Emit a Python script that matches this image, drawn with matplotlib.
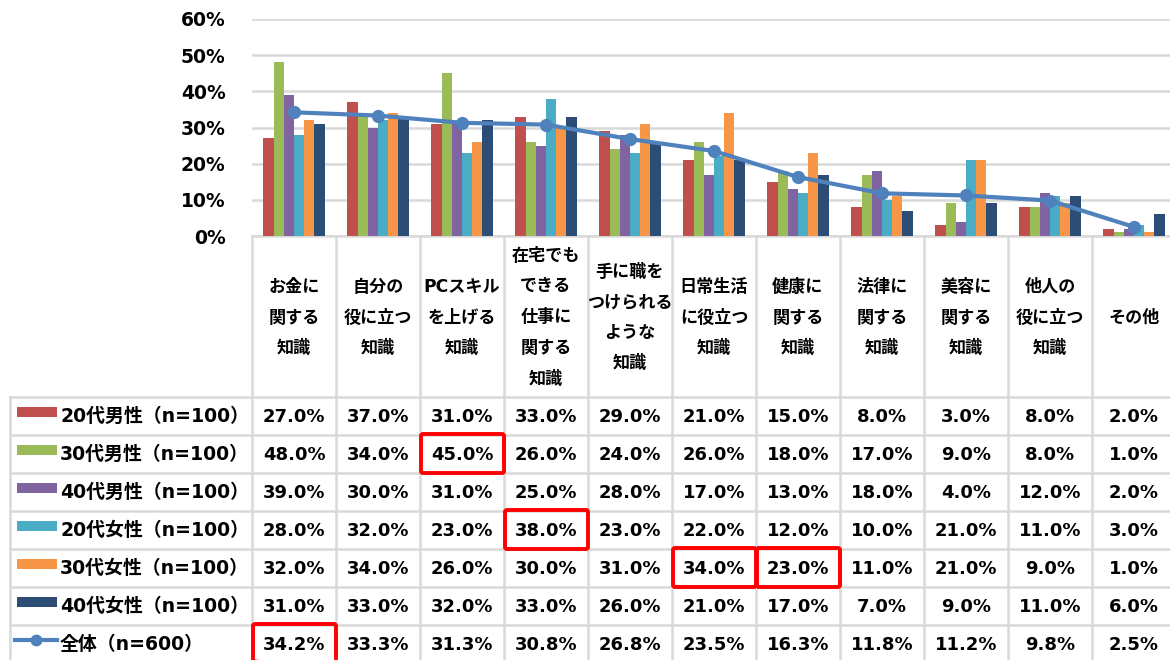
import matplotlib
matplotlib.use("Agg")
import matplotlib.pyplot as plt
from matplotlib.patches import Rectangle, FancyBboxPatch
import numpy as np

plt.rcParams['font.family'] = ['DejaVu Sans', 'Noto Sans CJK JP']
plt.rcParams['font.weight'] = 'bold'

# ---- data ----
categories = ["お金に\n関する\n知識", "自分の\n役に立つ\n知識", "PCスキル\nを上げる\n知識",
              "在宅でも\nできる\n仕事に\n関する\n知識", "手に職を\nつけられる\nような\n知識",
              "日常生活\nに役立つ\n知識", "健康に\n関する\n知識", "法律に\n関する\n知識",
              "美容に\n関する\n知識", "他人の\n役に立つ\n知識", "その他"]
series_names = ["20代男性（n=100）", "30代男性（n=100）", "40代男性（n=100）",
                "20代女性（n=100）", "30代女性（n=100）", "40代女性（n=100）"]
m20 = [27.0, 37.0, 31.0, 33.0, 29.0, 21.0, 15.0, 8.0, 3.0, 8.0, 2.0]
m30 = [48.0, 34.0, 45.0, 26.0, 24.0, 26.0, 18.0, 17.0, 9.0, 8.0, 1.0]
m40 = [39.0, 30.0, 31.0, 25.0, 28.0, 17.0, 13.0, 18.0, 4.0, 12.0, 2.0]
f20 = [28.0, 32.0, 23.0, 38.0, 23.0, 22.0, 12.0, 10.0, 21.0, 11.0, 3.0]
f30 = [32.0, 34.0, 26.0, 30.0, 31.0, 34.0, 23.0, 11.0, 21.0, 9.0, 1.0]
f40 = [31.0, 33.0, 32.0, 33.0, 26.0, 21.0, 17.0, 7.0, 9.0, 11.0, 6.0]
total_name = "全体（n=600）"
total = [34.2, 33.3, 31.3, 30.8, 26.8, 23.5, 16.3, 11.8, 11.2, 9.8, 2.5]
highlights = [(1, 2), (3, 3), (4, 5), (4, 6), (6, 0)]  # (row, column) of red boxes
y_ticks = [0, 10, 20, 30, 40, 50, 60]

series = [m20, m30, m40, f20, f30, f40]
colors = ["#C0504D", "#9BBB59", "#8064A2", "#4BACC6", "#F79646", "#2C4D75"]
line_color = "#4F81BD"
grid_color = "#D9D9D9"

W, H = 1170, 660
fig = plt.figure(figsize=(W / 100, H / 100), dpi=100)

# layout in pixels
x0, col_w = 252, 84
plot_top, plot_bot = 19, 236
row_top, row_h = 397, 38
n = len(categories)

# ---- bar + line chart ----
ax = fig.add_axes([x0 / W, (H - plot_bot) / H, (W - x0) / W, (plot_bot - plot_top) / H])
ax.patch.set_visible(False)
x = np.arange(n)
bw = 0.1215
for i, (vals, c) in enumerate(zip(series, colors)):
    ax.bar(x + (i - 2.5) * bw, vals, width=bw, color=c, zorder=2)
ax.plot(x, total, color=line_color, lw=3, marker='o', ms=8.5, zorder=3)
ax.set_xlim(-0.5, -0.5 + (W - x0) / col_w)
ax.set_ylim(0, 60)
ax.set_yticks(y_ticks)
ax.set_yticklabels([f"{t}%" for t in y_ticks], fontsize=13.5, fontweight='bold')
ax.tick_params(axis='y', length=0, pad=19)
ax.set_xticks([])
ax.grid(axis='y', color=grid_color, lw=1.8, zorder=0)
for s in ['left', 'right', 'top', 'bottom']:
    ax.spines[s].set_visible(False)

# ---- data table ----
tb = fig.add_axes([0, 0, 1, 1], zorder=-1)
tb.set_xlim(0, W)
tb.set_ylim(H, 0)
tb.axis('off')

lc, lw = grid_color, 1.8
right = x0 + col_w * n
# header row
tb.plot([x0, right], [plot_bot, plot_bot], color=lc, lw=lw)
for j in range(n + 1):
    xx = x0 + j * col_w
    tb.plot([xx, xx], [plot_bot, H + 10], color=lc, lw=lw)
# body rows
tb.plot([10, 10], [row_top, H + 10], color=lc, lw=lw)
for r in range(8):
    yy = row_top + r * row_h
    tb.plot([10, right], [yy, yy], color=lc, lw=lw)

for j, cat in enumerate(categories):
    tb.text(x0 + (j + 0.5) * col_w, (plot_bot + row_top) / 2 + 1, cat,
            ha='center', va='center', fontsize=12.3, fontweight='bold',
            linespacing=1.9, color='black')

rows = series + [total]
names = series_names + [total_name]
for r, (vals, name) in enumerate(zip(rows, names)):
    yc = row_top + (r + 0.5) * row_h
    if r < len(series):
        tb.add_patch(Rectangle((17, yc - 9), 40, 10, color=colors[r], lw=0))
    else:
        tb.plot([15, 57], [yc - 4, yc - 4], color=line_color, lw=3)
        tb.plot([36], [yc - 4], marker='o', color=line_color, ms=7.5)
    tb.text(60, yc, name, ha='left', va='center', fontsize=13.6, fontweight='bold')
    for j, v in enumerate(vals):
        tb.text(x0 + (j + 0.5) * col_w, yc + 1, f"{v:.1f}%", ha='center', va='center',
                fontsize=13, fontweight='bold')

for r, j in highlights:
    bx = x0 + j * col_w
    by = row_top + r * row_h
    tb.add_patch(FancyBboxPatch((bx + 1, by - 1), col_w - 1, row_h + 1,
                                boxstyle="round,pad=0,rounding_size=2",
                                fill=False, ec="#FF0000", lw=2.8, zorder=5))

fig.savefig("out.png", dpi=100)
